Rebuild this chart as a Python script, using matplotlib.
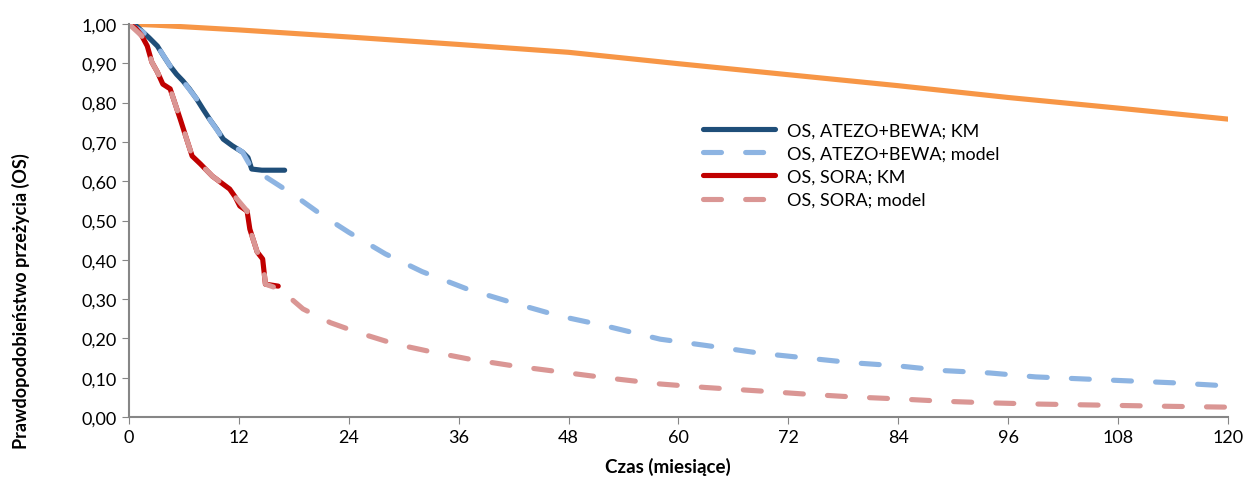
import numpy as np
import matplotlib.pyplot as plt

plt.rcParams['font.family'] = ['Lato', 'DejaVu Sans']

# czas (miesiace) i przezycie
t_atezo_km = [0, 0.8, 1.5, 2.2, 3.1, 3.8, 4.5, 5.2, 5.9, 6.6, 7.4, 8.1, 8.8, 9.6, 10.3, 11.3, 12.4, 13.0, 13.4, 14.5, 17.0]
s_atezo_km = [1.0, 0.995, 0.98, 0.965, 0.944, 0.918, 0.893, 0.872, 0.855, 0.835, 0.809, 0.783, 0.758, 0.732, 0.707, 0.69, 0.674, 0.66, 0.631, 0.628, 0.628]

t_atezo_mod = [0, 1.5, 3.1, 4.5, 5.9, 7.4, 8.8, 10.3, 12.4, 13.6, 15, 18, 21, 24, 28, 32, 37, 42, 47, 52, 58, 63, 69, 74, 79, 84, 89, 94, 99, 104, 109, 114, 120]
s_atezo_mod = [1.0, 0.98, 0.944, 0.893, 0.855, 0.809, 0.758, 0.707, 0.674, 0.625, 0.61, 0.565, 0.515, 0.47, 0.415, 0.37, 0.325, 0.29, 0.257, 0.232, 0.198, 0.182, 0.162, 0.15, 0.138, 0.13, 0.118, 0.112, 0.102, 0.097, 0.092, 0.087, 0.079]

t_sora_km = [0, 0.7, 1.4, 2.0, 2.5, 3.1, 3.7, 4.5, 5.0, 5.6, 6.3, 6.9, 7.8, 9.1, 11.0, 11.6, 12.1, 12.9, 13.2, 14.0, 14.6, 14.9, 16.3]
s_sora_km = [1.0, 0.99, 0.97, 0.944, 0.903, 0.878, 0.847, 0.835, 0.80, 0.758, 0.707, 0.664, 0.644, 0.613, 0.58, 0.56, 0.537, 0.524, 0.478, 0.42, 0.402, 0.338, 0.333]

t_sora_mod = [0, 1.4, 2.0, 2.5, 3.1, 3.7, 4.5, 5.0, 5.6, 6.3, 6.9, 7.8, 9.1, 11.0, 11.6, 12.9, 13.2, 14.0, 14.6, 14.9, 16.5, 19, 22, 25, 29, 33, 37, 42, 47, 52, 58, 63, 69, 74, 79, 84, 89, 94, 99, 104, 109, 114, 120]
s_sora_mod = [1.0, 0.97, 0.944, 0.903, 0.878, 0.847, 0.835, 0.80, 0.758, 0.707, 0.664, 0.644, 0.613, 0.58, 0.56, 0.524, 0.478, 0.42, 0.402, 0.338, 0.325, 0.275, 0.24, 0.215, 0.186, 0.166, 0.148, 0.13, 0.115, 0.1, 0.084, 0.075, 0.066, 0.058, 0.051, 0.046, 0.04, 0.036, 0.033, 0.031, 0.029, 0.027, 0.025]

t_pop = [0, 3, 12, 24, 36, 48, 60, 72, 84, 96, 108, 120]
s_pop = [1.0, 0.997, 0.985, 0.967, 0.948, 0.928, 0.899, 0.871, 0.843, 0.813, 0.786, 0.758]

fig = plt.figure(figsize=(12.47, 4.81), dpi=100)
ax = fig.add_axes([0.1034, 0.131, 0.8814, 0.817])

lw = 3.7
dash = (3.5, 4.7)
ax.plot(t_pop, s_pop, color='#F79646', lw=lw, solid_capstyle='round')
ax.plot(t_atezo_km, s_atezo_km, color='#1F4E79', lw=lw, solid_capstyle='round',
        label='OS, ATEZO+BEWA; KM')
ax.plot(t_atezo_mod, s_atezo_mod, color='#8DB4E2', lw=lw, dashes=dash,
        dash_capstyle='round', label='OS, ATEZO+BEWA; model')
ax.plot(t_sora_km, s_sora_km, color='#C00000', lw=lw, solid_capstyle='round',
        label='OS, SORA; KM')
ax.plot(t_sora_mod, s_sora_mod, color='#DA9694', lw=lw, dashes=dash,
        dash_capstyle='round', label='OS, SORA; model')

ax.set_xlim(0, 120)
ax.set_ylim(0, 1.0)
ax.set_xticks(np.arange(0, 121, 12))
ax.set_yticks(np.arange(0, 1.01, 0.1))
ax.set_yticklabels([f'{v:.2f}'.replace('.', ',') for v in np.arange(0, 1.01, 0.1)])
ax.tick_params(labelsize=13, color='#868686', length=5, direction='out')
for s in ['top', 'right']:
    ax.spines[s].set_visible(False)
for s in ['left', 'bottom']:
    ax.spines[s].set_color('#868686')
    ax.spines[s].set_linewidth(1.5)

ax.set_ylabel('Prawdopodobieństwo przeżycia (OS)', fontsize=13, fontweight='bold')
ax.yaxis.set_label_coords(-0.090, 0.298)
ax.set_xlabel('Czas (miesiące)', fontsize=13.5, fontweight='bold')
ax.xaxis.set_label_coords(0.49, -0.102)
ax.legend(loc='upper left', bbox_to_anchor=(0.522, 0.75), frameon=False, fontsize=13,
          handlelength=4.0, labelspacing=0.4, borderpad=0, borderaxespad=0,
          handletextpad=0.65)

fig.savefig('out.png', dpi=100)
